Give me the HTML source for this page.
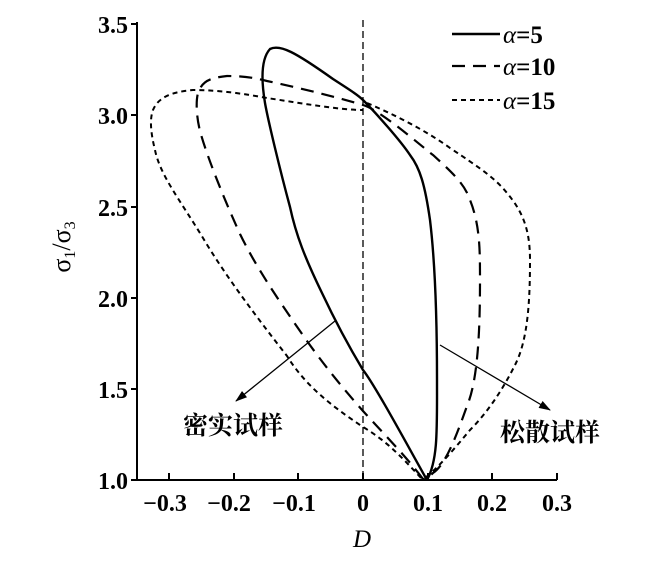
<!DOCTYPE html>
<html><head><meta charset="utf-8"><style>
html,body{margin:0;padding:0;background:#fff;}
svg{display:block;}
text{font-family:"Liberation Serif","Noto Serif CJK SC",serif;fill:#000;font-weight:bold;}
</style></head><body>
<svg width="647" height="567" viewBox="0 0 647 567" xmlns="http://www.w3.org/2000/svg">
<defs><marker id="ah" markerWidth="12" markerHeight="8" refX="11" refY="4" orient="auto" markerUnits="userSpaceOnUse"><path d="M0,0 L12,4 L0,8 z" fill="#000"/></marker></defs>
<g stroke="#000" stroke-width="2" fill="none">
<path d="M137,22 V480 H557"/>
<path d="M131,24 H137 M131,115 H137 M131,207 H137 M131,298 H137 M131,389 H137 M131,480 H137"/>
<path d="M169,480 V473 M234,480 V473 M298,480 V473 M363,480 V473 M428,480 V473 M492,480 V473 M557,480 V473"/>
</g>
<line x1="363" y1="20" x2="363" y2="480" stroke="#000" stroke-width="1.3" stroke-dasharray="7,4"/>
<path d="M427,480 C410,450 375,385 363,370 C345,340 330,310 322,293 C305,258 296,235 290,207 C280,170 268,120 265,103 C262,85 260,60 270,49 C280,44 295,52 333,79 C350,90 358,95 363,100 C375,112 400,140 410,155 C420,168 425,185 430,220 C436,270 437,330 437,380 C437,430 438,460 427,480" stroke="#000" stroke-width="2.4" fill="none"/>
<path d="M423,479 C405,455 380,430 363,411 C340,385 320,360 300,331 C275,295 255,265 240,234 C220,190 205,150 200,131 C196,115 196,100 198,93 C202,82 208,78 227,76 C245,76 255,78 267,81 C300,88 340,98 363,105 C380,110 420,145 433,155 C455,175 465,185 470,200 C480,225 480,250 480,280 C480,330 478,380 467,406 C455,440 445,465 433,473 C428,478 425,479 423,479" stroke="#000" stroke-width="2.2" fill="none" stroke-dasharray="13,8"/>
<path d="M421,478 C400,455 385,440 363,427 C330,405 305,385 287,356 C255,315 225,275 203,238 C180,200 160,175 155,150 C150,130 150,118 153,110 C158,98 170,92 193,90 C220,90 245,94 267,98 C300,103 340,110 363,110 M367,103 C395,115 425,130 450,148 C480,168 495,178 507,193 C523,212 530,230 530,260 C530,300 528,340 515,365 C505,385 490,410 470,430 C455,448 440,466 425,478" stroke="#000" stroke-width="2" fill="none" stroke-dasharray="5,4"/>
<line x1="335" y1="321" x2="236" y2="401" stroke="#000" stroke-width="1.3" marker-end="url(#ah)"/>
<line x1="440" y1="345" x2="550" y2="410" stroke="#000" stroke-width="1.3" marker-end="url(#ah)"/>
<text x="233" y="434" font-size="25" text-anchor="middle">密实试样</text>
<text x="550" y="441" font-size="25" text-anchor="middle">松散试样</text>
<line x1="452" y1="34" x2="500" y2="34" stroke="#000" stroke-width="2.4"/>
<line x1="452" y1="66" x2="500" y2="66" stroke="#000" stroke-width="2.2" stroke-dasharray="13,8"/>
<line x1="452" y1="100" x2="500" y2="100" stroke="#000" stroke-width="2" stroke-dasharray="5,4"/>
<text x="503" y="43" font-size="25"><tspan style="font-style:italic;font-weight:normal">α</tspan>=5</text>
<text x="503" y="75" font-size="25"><tspan style="font-style:italic;font-weight:normal">α</tspan>=10</text>
<text x="503" y="109" font-size="25"><tspan style="font-style:italic;font-weight:normal">α</tspan>=15</text>
<g font-size="24" text-anchor="end">
<text x="128" y="33">3.5</text><text x="128" y="124">3.0</text><text x="128" y="216">2.5</text>
<text x="128" y="307">2.0</text><text x="128" y="398">1.5</text><text x="128" y="489">1.0</text>
</g>
<g font-size="24" text-anchor="middle">
<text x="165" y="511">−0.3</text><text x="229" y="511">−0.2</text><text x="294" y="511">−0.1</text>
<text x="363" y="511">0</text><text x="428" y="511">0.1</text><text x="492" y="511">0.2</text><text x="557" y="511">0.3</text>
</g>
<text x="362" y="547" font-size="25" style="font-style:italic;font-weight:normal" text-anchor="middle">D</text>
<text transform="translate(70,247) rotate(-90)" font-size="26" style="font-weight:normal" text-anchor="middle">σ<tspan font-size="16" dy="5">1</tspan><tspan dy="-5">/σ</tspan><tspan font-size="16" dy="5">3</tspan></text>
</svg>
</body></html>
